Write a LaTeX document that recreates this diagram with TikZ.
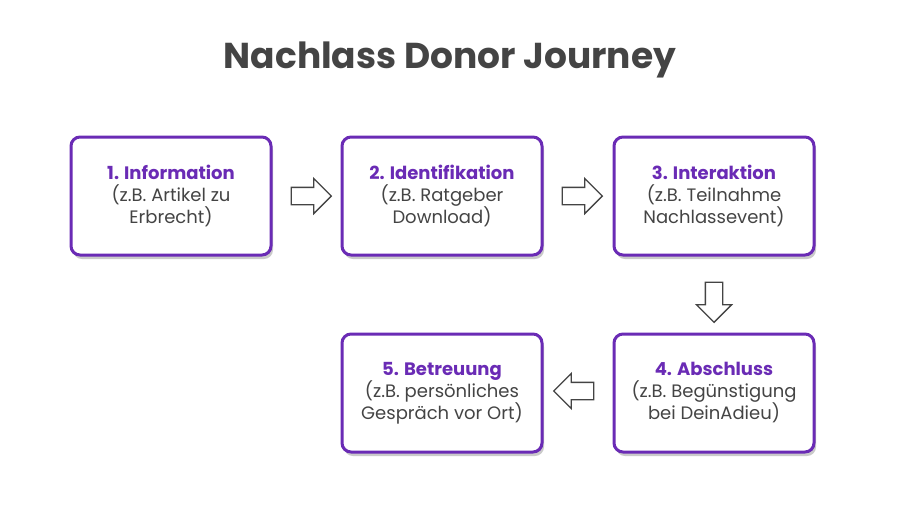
\documentclass[tikz,border=0pt]{standalone}
\usepackage{fontspec}
\setmainfont{Poppins}
\usetikzlibrary{shapes.arrows,shadows}
\definecolor{pur}{HTML}{6A2BB5}
\definecolor{txt}{HTML}{444444}
\begin{document}
\begin{tikzpicture}[x=1pt,y=-1pt,
 box/.style={draw=pur,line width=3pt,rounded corners=9pt,fill=white,minimum width=200pt,minimum height=118pt,align=center,font=\fontsize{18}{22}\selectfont,text=txt,
   drop shadow={shadow xshift=2pt,shadow yshift=-4pt,fill=black!35,opacity=0.6}},
 arr/.style={single arrow,draw=txt,line width=1.3pt,fill=white,minimum height=40pt,minimum width=34pt,single arrow head extend=9pt,inner sep=8pt},
 ]
\useasboundingbox (0,0) rectangle (900,507);
\node[font=\fontsize{36}{40}\selectfont\bfseries,text=txt] (t) at (450,60) {Nachlass Donor Journey};
\node[box] (b1) at (171,196) {{\color{pur}\textbf{1. Information}}\\(z.B. Artikel zu\\Erbrecht)};
\node[box] (b2) at (442,196) {{\color{pur}\textbf{2. Identifikation}}\\(z.B. Ratgeber\\Download)};
\node[box] (b3) at (714,196) {{\color{pur}\textbf{3. Interaktion}}\\(z.B. Teilnahme\\Nachlassevent)};
\node[box] (b4) at (714,393) {{\color{pur}\textbf{4. Abschluss}}\\(z.B. Begünstigung\\bei DeinAdieu)};
\node[box] (b5) at (442,393) {{\color{pur}\textbf{5. Betreuung}}\\(z.B. persönliches\\Gespräch vor Ort)};
\node[arr] (a1) at (307,196) {};
\node[arr] (a2) at (578,196) {};
\node[arr,shape border rotate=270] (a3) at (714,298) {};
\node[arr,shape border rotate=180] (a4) at (578,391) {};
\end{tikzpicture}
\end{document}
